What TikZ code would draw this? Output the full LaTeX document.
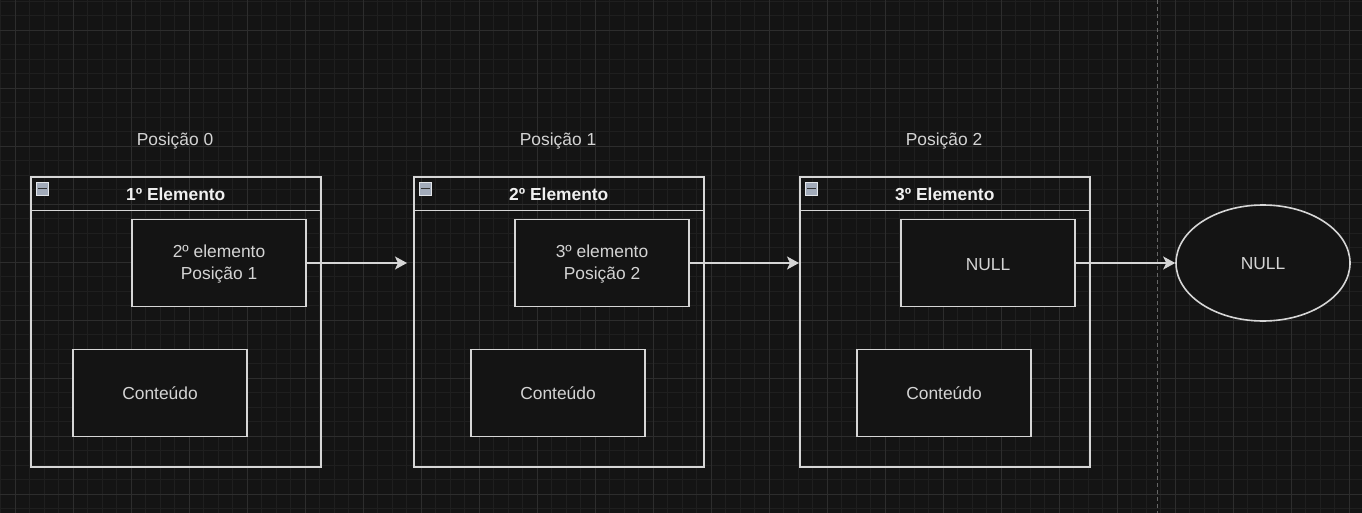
\documentclass[tikz,border=0pt]{standalone}
\usepackage{fontspec}
\setmainfont{Liberation Sans}
\usetikzlibrary{arrows.meta,shapes.geometric}
\definecolor{bgdark}{HTML}{141414}
\definecolor{gridminor}{HTML}{1F1F1F}
\definecolor{gridmajor}{HTML}{2D2D2D}
\definecolor{edge}{HTML}{D6D6D6}
\definecolor{txt}{HTML}{D4D4D4}
\definecolor{iconfill}{HTML}{A2ABBA}

\begin{document}
\begin{tikzpicture}[x=1pt,y=-1pt,
    every node/.style={font=\fontsize{17.4}{22}\selectfont,text=txt},
    cont/.style={draw=edge,line width=1.6pt,minimum width=290pt,minimum height=290pt,inner sep=0pt,anchor=north west},
    head/.style={draw=edge,line width=1.6pt,minimum width=290pt,minimum height=33pt,inner sep=0pt,anchor=north,
      font=\fontsize{17.4}{21}\selectfont\bfseries,text=white!94!black},
    cell/.style={draw=edge,line width=1.6pt,fill=bgdark,minimum width=174pt,minimum height=87pt,inner sep=0pt,align=center},
    minus/.style={draw=white!70!iconfill,fill=iconfill,line width=0.8pt,minimum size=12.5pt,inner sep=0pt},
    link/.style={-{Stealth[length=12pt,width=13pt,inset=3pt]},draw=edge,line width=1.8pt}]
  \fill[bgdark] (0,0) rectangle (1362,513);
  \useasboundingbox (0,0) rectangle (1362,513);
  \foreach \k in {-1,...,92} \draw[gridminor,line width=0.8pt] ({15.3+14.5*\k},0) -- ({15.3+14.5*\k},513);
  \foreach \k in {-1,...,34} \draw[gridminor,line width=0.8pt] (0,{15.8+14.5*\k}) -- (1362,{15.8+14.5*\k});
  \foreach \k in {0,...,23} \draw[gridmajor,line width=0.8pt] ({15.3+58*\k},0) -- ({15.3+58*\k},513);
  \foreach \k in {0,...,8} \draw[gridmajor,line width=0.8pt] (0,{30.3+58*\k}) -- (1362,{30.3+58*\k});
  \draw[white!35!bgdark,line width=0.8pt,dash pattern=on 4pt off 3pt] (1157,0) -- (1157,513);
  \foreach \n/\x/\cx/\pos/\title/\ptr in {1/30/73/0/{1º Elemento}/{2º elemento\\Posição 1},
      2/413/471/1/{2º Elemento}/{3º elemento\\Posição 2},
      3/799/857/2/{3º Elemento}/NULL} {
    \node[cont] (c\n) at (\x,176) {};
    \node[head] (h\n) at ([yshift=-0.8pt]c\n.north) {\title};
    \node[minus] (m\n) at (\x+12.3,188.7) {};
    \draw[black!80,line width=1.6pt] ([xshift=-4.5pt]m\n.center) -- ([xshift=4.5pt]m\n.center);
    \node[cell] (p\n) at (\x+189,263) {};
    \node (q\n) at ([yshift=-1.5pt]p\n.center) [align=center] {\ptr};
    \node[cell] (d\n) at (\cx+87,393) {Conteúdo};
    \node (t\n) at (\x+145,141) {Posição \pos};
  }
  \node[ellipse,draw=edge,line width=1.6pt,fill=bgdark,minimum width=174pt,minimum height=116pt,inner sep=0pt] (nil) at (1263,263) {};
  \node (nt) at ([yshift=-1pt]nil.center) {NULL};
  \draw[link,shorten >=6pt] (p1.east) -- (c2.west |- p1.east);
  \draw[link] (p2.east) -- (c3.west |- p2.east);
  \draw[link] (p3.east) -- (nil.west);
\end{tikzpicture}
\end{document}
